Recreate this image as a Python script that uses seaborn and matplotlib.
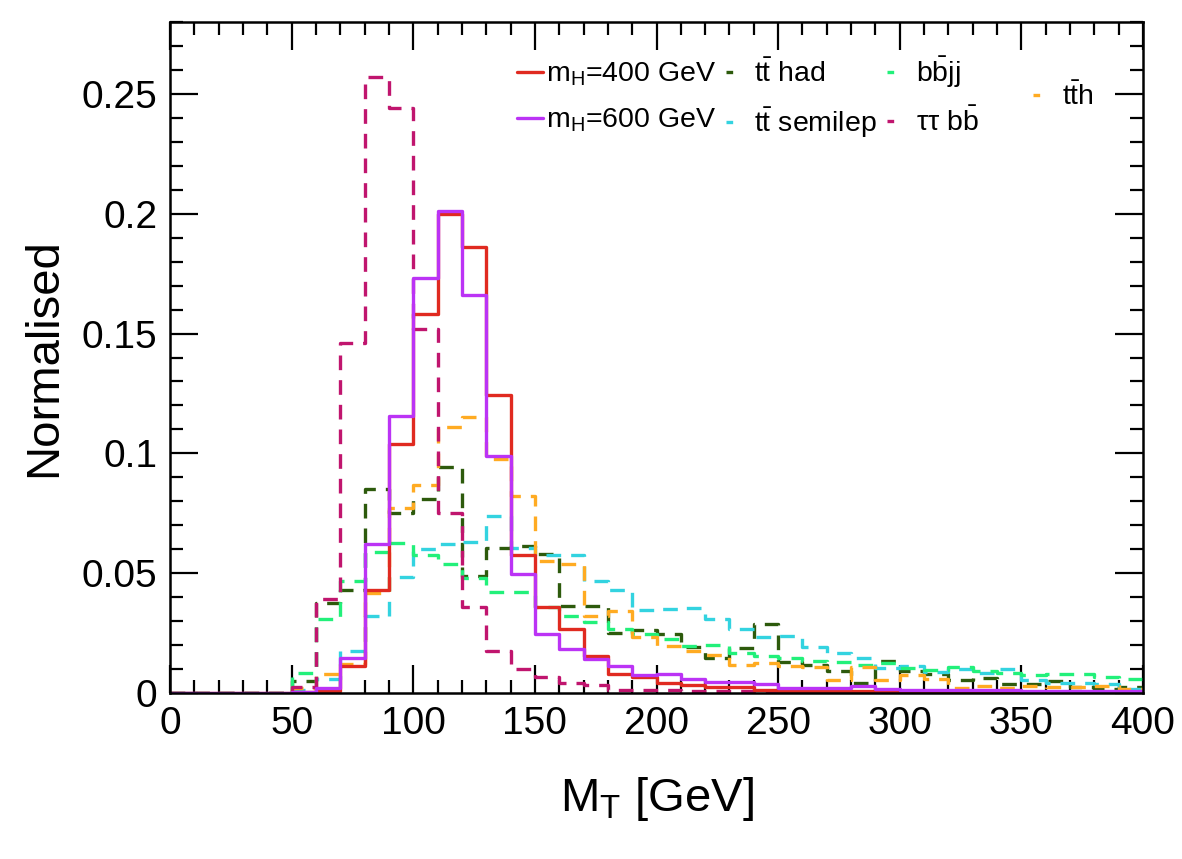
import numpy as np
import pandas as pd
import seaborn as sns
import matplotlib
matplotlib.use("Agg")
import matplotlib.pyplot as plt
from matplotlib.lines import Line2D
from matplotlib.ticker import MultipleLocator, FormatStrFormatter

# ---------------- data (bin contents, 10 GeV bins from 0 to 400) ----------------
bin_edges = list(range(0, 410, 10))

mh400 = [0, 0, 0, 0, 0, 0.0005, 0.001, 0.0112, 0.043, 0.104,
         0.158, 0.200, 0.186, 0.1245, 0.0575, 0.0359, 0.0267, 0.0153, 0.0079, 0.0068,
         0.004, 0.0033, 0.0026, 0.0024, 0.0012, 0.001, 0.0008, 0.0008, 0.0007, 0.0006,
         0.0006, 0.0005, 0.0005, 0.0004, 0.0004, 0.0003, 0.0003, 0.0003, 0.0002, 0.0002]

mh600 = [0, 0, 0, 0, 0, 0.0005, 0.002, 0.0147, 0.062, 0.1155,
         0.173, 0.201, 0.166, 0.099, 0.0497, 0.0248, 0.0184, 0.0142, 0.0114, 0.0075,
         0.0078, 0.0057, 0.0045, 0.0047, 0.0036, 0.0019, 0.0019, 0.0019, 0.0030, 0.0015,
         0.0014, 0.0013, 0.0012, 0.0012, 0.0011, 0.001, 0.001, 0.0009, 0.0009, 0.0008]

tt_had = [0, 0, 0, 0, 0, 0.0051, 0.0377, 0.043, 0.085, 0.075,
          0.081, 0.0945, 0.049, 0.0606, 0.0615, 0.058, 0.0365, 0.0363, 0.0252, 0.0262,
          0.0247, 0.0194, 0.0147, 0.0186, 0.0288, 0.013, 0.0117, 0.0092, 0.004, 0.0133,
          0.0092, 0.0079, 0.0053, 0.0064, 0.0037, 0.0037, 0.0052, 0.0027, 0.0015, 0.0027]

tt_semilep = [0, 0, 0, 0, 0, 0.0012, 0.006, 0.0176, 0.0323, 0.0486,
              0.060, 0.062, 0.063, 0.0737, 0.0605, 0.0577, 0.0575, 0.0466, 0.043, 0.0345,
              0.0349, 0.0354, 0.0308, 0.0266, 0.0232, 0.0238, 0.019, 0.0165, 0.0145, 0.0103,
              0.0114, 0.0087, 0.0099, 0.0082, 0.010, 0.0054, 0.004, 0.004, 0.0038, 0.0015]

bbjj = [0, 0, 0, 0, 0, 0.0085, 0.0307, 0.0467, 0.059, 0.0627,
        0.0576, 0.054, 0.048, 0.042, 0.042, 0.036, 0.032, 0.0298, 0.0266, 0.0246,
        0.0226, 0.0198, 0.0202, 0.0166, 0.0155, 0.0145, 0.0135, 0.013, 0.0117, 0.0124,
        0.0105, 0.0095, 0.0107, 0.0093, 0.0082, 0.0075, 0.0079, 0.0079, 0.0065, 0.0058]

tautau_bb = [0, 0, 0, 0, 0, 0.0024, 0.0392, 0.146, 0.257, 0.244,
             0.152, 0.075, 0.036, 0.0174, 0.010, 0.0065, 0.0042, 0.0032, 0.0014, 0.0013,
             0.0012, 0.001, 0.001, 0.001, 0.001, 0.0008, 0.0007, 0.0006, 0.0006, 0.0005,
             0.0005, 0.0004, 0.0004, 0.0003, 0.0003, 0.0003, 0.0002, 0.0002, 0.0002, 0.0002]

tth = [0, 0, 0, 0, 0, 0.002, 0.0079, 0.012, 0.0416, 0.077,
       0.087, 0.111, 0.115, 0.0976, 0.082, 0.055, 0.054, 0.032, 0.0343, 0.0235,
       0.0196, 0.0175, 0.0158, 0.0115, 0.0124, 0.0112, 0.011, 0.0056, 0.011, 0.0053,
       0.0075, 0.0057, 0.0019, 0.0029, 0.002, 0.0029, 0.0024, 0.0024, 0.0029, 0.0015]

labels = {
    "mh400": r"m$_{\mathrm{H}}$=400 GeV",
    "mh600": r"m$_{\mathrm{H}}$=600 GeV",
    "tt_had": r"t$\bar{\mathrm{t}}$ had",
    "tt_semilep": r"t$\bar{\mathrm{t}}$ semilep",
    "bbjj": r"b$\bar{\mathrm{b}}$jj",
    "tautau_bb": "ττ b" + r"$\bar{\mathrm{b}}$",
    "tth": r"t$\bar{\mathrm{t}}$h",
}

# ---------------- style ----------------
sns.set_theme(style="ticks")
plt.rcParams["font.family"] = ["Liberation Sans", "DejaVu Sans"]
plt.rcParams["mathtext.fontset"] = "custom"
plt.rcParams["mathtext.rm"] = "Liberation Sans"
plt.rcParams["mathtext.it"] = "Liberation Sans:italic"
plt.rcParams["mathtext.bf"] = "Liberation Sans:bold"
for k in ["text.color", "axes.labelcolor", "xtick.color", "ytick.color", "axes.edgecolor"]:
    plt.rcParams[k] = "black"

colors = {
    "mh400": "#e02a20",
    "mh600": "#bb33f5",
    "tt_had": "#2d5a0c",
    "tt_semilep": "#33d3e0",
    "bbjj": "#22f07a",
    "tautau_bb": "#c0156e",
    "tth": "#ffab22",
}

lw = 2.4
dash = (0, (4.4, 3.0))

fig = plt.figure(figsize=(11.82, 8.59), dpi=100)
ax = fig.add_axes([170 / 1182, 1 - 693 / 859, (1143 - 170) / 1182, (693 - 22) / 859])

centers = [(bin_edges[i] + bin_edges[i + 1]) / 2 for i in range(len(bin_edges) - 1)]

series = [
    ("tt_had", tt_had, True),
    ("tt_semilep", tt_semilep, True),
    ("bbjj", bbjj, True),
    ("tth", tth, True),
    ("tautau_bb", tautau_bb, True),
    ("mh400", mh400, False),
    ("mh600", mh600, False),
]

for key, vals, dashed in series:
    df = pd.DataFrame({"x": centers, "w": vals})
    sns.histplot(data=df, x="x", weights="w", bins=list(bin_edges), element="step",
                 fill=False, color=colors[key], linewidth=lw,
                 linestyle=dash if dashed else "-", ax=ax)

ax.set_xlim(0, 400)
ax.set_ylim(0, 0.28)
ax.xaxis.set_major_locator(MultipleLocator(50))
ax.xaxis.set_minor_locator(MultipleLocator(10))
ax.yaxis.set_major_locator(MultipleLocator(0.05))
ax.yaxis.set_minor_locator(MultipleLocator(0.01))
ax.yaxis.set_major_formatter(FormatStrFormatter("%g"))
ax.tick_params(which="both", direction="in", top=True, right=True, colors="black",
               width=1.6)
ax.tick_params(which="major", length=20, labelsize=28, pad=9)
ax.tick_params(which="minor", length=9.5)
for sp in ax.spines.values():
    sp.set_linewidth(1.8)
    sp.set_color("black")

ax.set_xlabel(r"M$_{\mathrm{T}}$ [GeV]", fontsize=34, labelpad=24, color="black")
ax.set_ylabel("Normalised", fontsize=34, labelpad=11, color="black")

# ---------------- legends ----------------
def handle(key, dashed):
    if dashed:
        return Line2D([], [], color=colors[key], linewidth=lw, linestyle=(0, (2.0, 8.0)))
    return Line2D([], [], color=colors[key], linewidth=lw)

order = [("mh400", False), ("mh600", False), ("tt_had", True), ("tt_semilep", True),
         ("bbjj", True), ("tautau_bb", True)]
leg = ax.legend([handle(k, d) for k, d in order], [labels[k] for k, _ in order],
                ncol=3, loc="upper left", bbox_to_anchor=(0.357, 0.952),
                frameon=False, fontsize=20.5, handlelength=0.9, handletextpad=0.1,
                columnspacing=0.35, labelspacing=0.65, borderpad=0.0, borderaxespad=0)
for t in leg.get_texts():
    t.set_color("black")
ax.add_artist(leg)
leg2 = ax.legend([handle("tth", True)], [labels["tth"]], loc="upper left",
                 bbox_to_anchor=(0.887, 0.91), frameon=False, fontsize=20.5,
                 handlelength=0.9, handletextpad=0.1, borderpad=0.0, borderaxespad=0)
for t in leg2.get_texts():
    t.set_color("black")

fig.savefig("out.png", dpi=100)
